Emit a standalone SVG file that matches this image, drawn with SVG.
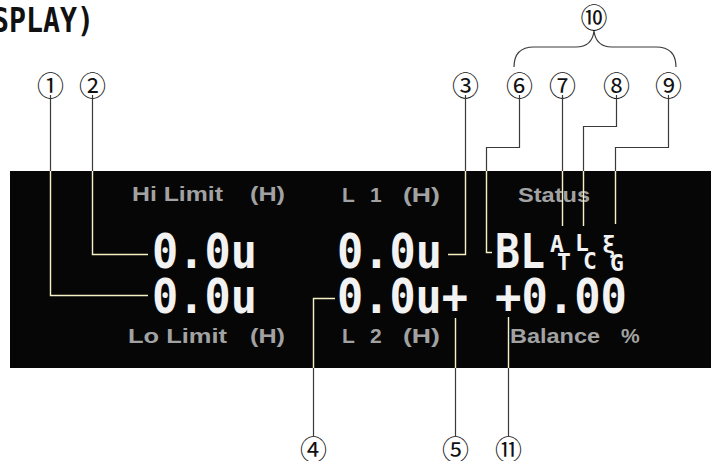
<svg xmlns="http://www.w3.org/2000/svg" xmlns:xlink="http://www.w3.org/1999/xlink" width="711" height="461" viewBox="0 0 711 461">
<style>
.lbl{font-family:"Liberation Sans",Arial,sans-serif;font-weight:bold;font-size:21px;fill:#a2a2a2}
.dig{font-family:"DejaVu Sans Mono",monospace;font-weight:bold;font-size:48px;fill:#f2f2f2}
.sm{font-family:"DejaVu Sans Mono",monospace;font-weight:bold;font-size:23px;fill:#f2f2f2}
.num{font-family:"Noto Sans CJK JP","DejaVu Sans",sans-serif;font-size:27px;fill:#111;text-anchor:middle;dominant-baseline:central}
</style>
<defs>
<clipPath id="scr"><rect x="10" y="171" width="701" height="197"/></clipPath>
</defs>
<rect width="711" height="461" fill="#fff"/>
<g id="title"><text x="-8" y="32" font-family="DejaVu Sans Mono,monospace" font-weight="bold" font-size="33" fill="#111" textLength="102" lengthAdjust="spacingAndGlyphs">SPLAY)</text></g>
<g id="screen"><rect x="10" y="171" width="701" height="197" fill="#060606"/></g>
<g id="hi-limit">
<text class="lbl" x="132" y="201" textLength="91" lengthAdjust="spacingAndGlyphs">Hi Limit</text>
<text class="lbl" x="250" y="201" textLength="35" lengthAdjust="spacingAndGlyphs">(H)</text>
<text class="dig" x="152" y="268" textLength="105" lengthAdjust="spacingAndGlyphs">0.0u</text>
</g>
<g id="lo-limit">
<text class="dig" x="152" y="313" textLength="105" lengthAdjust="spacingAndGlyphs">0.0u</text>
<text class="lbl" x="128" y="343" textLength="99" lengthAdjust="spacingAndGlyphs">Lo Limit</text>
<text class="lbl" x="250" y="343" textLength="35" lengthAdjust="spacingAndGlyphs">(H)</text>
</g>
<g id="l1">
<text class="lbl" x="342" y="202">L</text>
<text class="lbl" x="370" y="202">1</text>
<text class="lbl" x="403" y="202" textLength="37" lengthAdjust="spacingAndGlyphs">(H)</text>
<text class="dig" x="337" y="268" textLength="105" lengthAdjust="spacingAndGlyphs">0.0u</text>
</g>
<g id="l2">
<text class="dig" x="337" y="313" textLength="131" lengthAdjust="spacingAndGlyphs">0.0u+</text>
<text class="lbl" x="342" y="343">L</text>
<text class="lbl" x="370" y="343">2</text>
<text class="lbl" x="403" y="343" textLength="37" lengthAdjust="spacingAndGlyphs">(H)</text>
</g>
<g id="status">
<text class="lbl" x="518" y="202" textLength="72" lengthAdjust="spacingAndGlyphs">Status</text>
<text class="dig" x="495" y="268" textLength="50" lengthAdjust="spacingAndGlyphs">BL</text>
<text class="sm" x="550" y="252">A</text>
<text class="sm" x="557" y="270" font-size="16">T</text>
<text class="sm" x="575" y="251">L</text>
<text class="sm" x="583" y="269" font-size="18">C</text>
<text class="sm" x="602" y="253">ξ</text>
<text class="sm" x="610" y="271" font-size="20">G</text>
</g>
<g id="balance">
<text class="dig" x="495" y="313" textLength="132" lengthAdjust="spacingAndGlyphs">+0.00</text>
<text class="lbl" x="510" y="343" textLength="90" lengthAdjust="spacingAndGlyphs">Balance</text>
<text class="lbl" x="621" y="343">%</text>
</g>
<g id="callouts">
<g id="c1"><text class="num" x="50.5" y="84">①</text></g>
<g id="c2"><text class="num" x="92.5" y="84">②</text></g>
<g id="c3"><text class="num" x="465.5" y="84">③</text></g>
<g id="c4"><text class="num" x="313.5" y="448">④</text></g>
<g id="c5"><text class="num" x="455.5" y="448">⑤</text></g>
<g id="c6"><text class="num" x="519.5" y="84">⑥</text></g>
<g id="c7"><text class="num" x="562.5" y="84">⑦</text></g>
<g id="c8"><text class="num" x="616.5" y="84">⑧</text></g>
<g id="c9"><text class="num" x="668.5" y="84">⑨</text></g>
<g id="c10"><text class="num" x="594" y="16">⑩</text></g>
<g id="c11"><text class="num" x="508.5" y="448">⑪</text></g>
</g>
<g id="connectors-wrap" stroke="#3a3a3a" stroke-width="1.2">
<g id="connectors" fill="none">
<path d="M50.5 95V295.5H148"/>
<path d="M92.5 95V254.5H148"/>
<path d="M465.5 95V254.5H448"/>
<path d="M519.5 95V147.5H486.5V252.5H492"/>
<path d="M562.5 95V226"/>
<path d="M616.5 95V126.5H583.5V226"/>
<path d="M668.5 95V147.5H615.5V224"/>
<path d="M313.5 436V298.5H335"/>
<path d="M455.5 436V318"/>
<path d="M508.5 436V317"/>
<path d="M514 67Q514 47 534 47H576Q592 47 594 31Q596 47 612 47H656Q676 47 676 67"/>
</g>
</g>
<use xlink:href="#connectors" stroke="#f4f0c4" stroke-width="1.4" clip-path="url(#scr)"/>
</svg>
